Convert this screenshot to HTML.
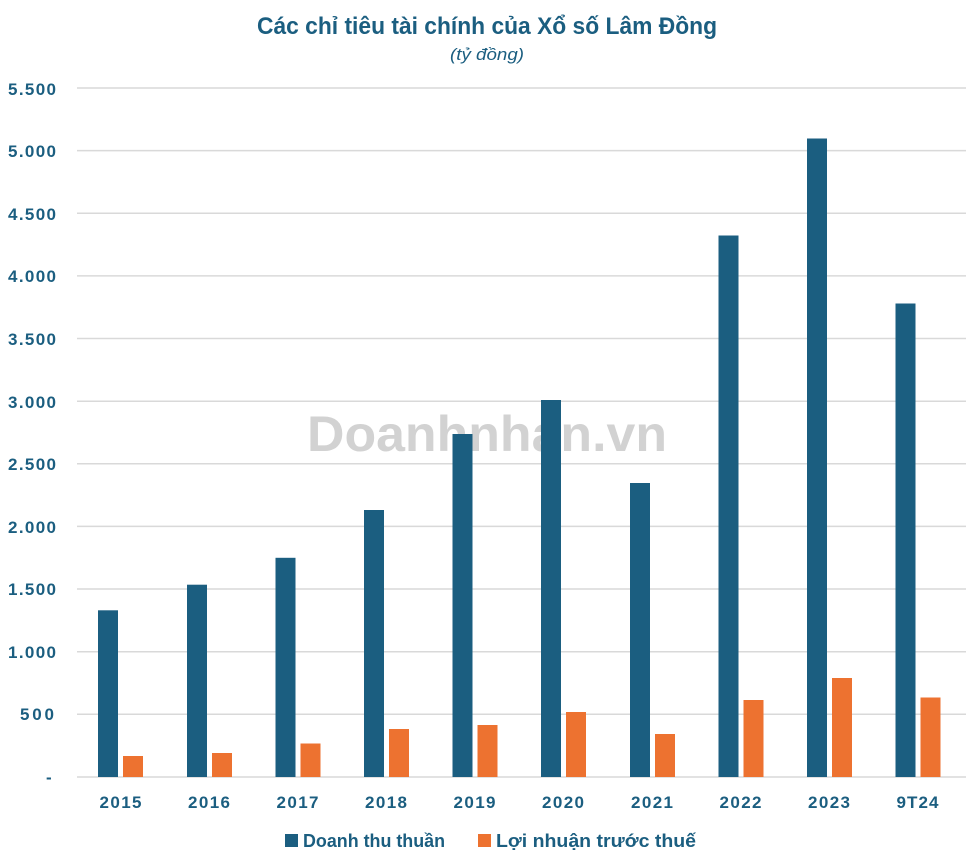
<!DOCTYPE html>
<html><head><meta charset="utf-8"><style>
html,body{margin:0;padding:0;background:#fff;}
svg{display:block;font-family:"Liberation Sans",sans-serif;}
</style></head><body>
<svg width="975" height="866" viewBox="0 0 975 866">
<rect width="975" height="866" fill="#fff"/>
<text x="487" y="34" text-anchor="middle" font-size="24" font-weight="bold" fill="#1b5e80" textLength="460" lengthAdjust="spacingAndGlyphs">Các chỉ tiêu tài chính của Xổ số Lâm Đồng</text>
<text x="487" y="60" text-anchor="middle" font-size="17" font-style="italic" fill="#1b5e80" textLength="74" lengthAdjust="spacingAndGlyphs">(tỷ đồng)</text>
<g stroke="#d9d9d9" stroke-width="1.5">
<line x1="77" x2="966" y1="88" y2="88"/><line x1="77" x2="966" y1="150.6" y2="150.6"/>
<line x1="77" x2="966" y1="213.3" y2="213.3"/><line x1="77" x2="966" y1="275.9" y2="275.9"/>
<line x1="77" x2="966" y1="338.5" y2="338.5"/><line x1="77" x2="966" y1="401.2" y2="401.2"/>
<line x1="77" x2="966" y1="463.8" y2="463.8"/><line x1="77" x2="966" y1="526.4" y2="526.4"/>
<line x1="77" x2="966" y1="589" y2="589"/><line x1="77" x2="966" y1="651.7" y2="651.7"/>
<line x1="77" x2="966" y1="714.3" y2="714.3"/><line x1="77" x2="966" y1="777" y2="777"/>
</g>
<g font-size="17" font-weight="bold" fill="#1b5e80" lengthAdjust="spacingAndGlyphs">
<text x="8" y="95" textLength="48">5.500</text><text x="8" y="157" textLength="48">5.000</text><text x="8" y="220" textLength="48">4.500</text>
<text x="8" y="282" textLength="48">4.000</text><text x="8" y="345" textLength="48">3.500</text><text x="8" y="408" textLength="48">3.000</text>
<text x="8" y="470" textLength="48">2.500</text><text x="8" y="533" textLength="48">2.000</text><text x="8" y="595" textLength="48">1.500</text>
<text x="8" y="658" textLength="48">1.000</text><text x="20" y="720" textLength="34">500</text><text x="46" y="783">-</text>
</g>
<text x="487" y="451" text-anchor="middle" font-size="50" font-weight="bold" fill="#d2d2d2" textLength="360" lengthAdjust="spacingAndGlyphs">Doanhnhan.vn</text>
<g fill="#1b5e80">
<rect x="98" y="610.3" width="20" height="166.7"/>
<rect x="187" y="584.7" width="20" height="192.3"/>
<rect x="275.5" y="557.8" width="20" height="219.2"/>
<rect x="364" y="510" width="20" height="267"/>
<rect x="452.5" y="434" width="20" height="343"/>
<rect x="541" y="400" width="20" height="377"/>
<rect x="630" y="483" width="20" height="294"/>
<rect x="718.5" y="235.5" width="20" height="541.5"/>
<rect x="807" y="138.5" width="20" height="638.5"/>
<rect x="895.5" y="303.5" width="20" height="473.5"/>
</g>
<g fill="#ed7230">
<rect x="123" y="756" width="20" height="21"/>
<rect x="212" y="753" width="20" height="24"/>
<rect x="300.5" y="743.5" width="20" height="33.5"/>
<rect x="389" y="729" width="20" height="48"/>
<rect x="477.5" y="725" width="20" height="52"/>
<rect x="566" y="712" width="20" height="65"/>
<rect x="655" y="734" width="20" height="43"/>
<rect x="743.5" y="700" width="20" height="77"/>
<rect x="832" y="678" width="20" height="99"/>
<rect x="920.5" y="697.5" width="20" height="79.5"/>
</g>
<g font-size="17" font-weight="bold" fill="#1b5e80" text-anchor="middle" lengthAdjust="spacingAndGlyphs">
<text x="120.5" y="808" textLength="42">2015</text><text x="209" y="808" textLength="42">2016</text><text x="297.5" y="808" textLength="42">2017</text>
<text x="386" y="808" textLength="42">2018</text><text x="474.5" y="808" textLength="42">2019</text><text x="563" y="808" textLength="42">2020</text>
<text x="652" y="808" textLength="42">2021</text><text x="740.5" y="808" textLength="42">2022</text><text x="829" y="808" textLength="42">2023</text>
<text x="917.5" y="808" textLength="42">9T24</text>
</g>
<rect x="285" y="834" width="13" height="13" fill="#1b5e80"/>
<text x="303" y="847" font-size="18" font-weight="bold" fill="#1b5e80" textLength="142" lengthAdjust="spacingAndGlyphs">Doanh thu thuần</text>
<rect x="478" y="834" width="13" height="13" fill="#ed7230"/>
<text x="496" y="847" font-size="18" font-weight="bold" fill="#1b5e80" textLength="200" lengthAdjust="spacingAndGlyphs">Lợi nhuận trước thuế</text>
</svg>
</body></html>
